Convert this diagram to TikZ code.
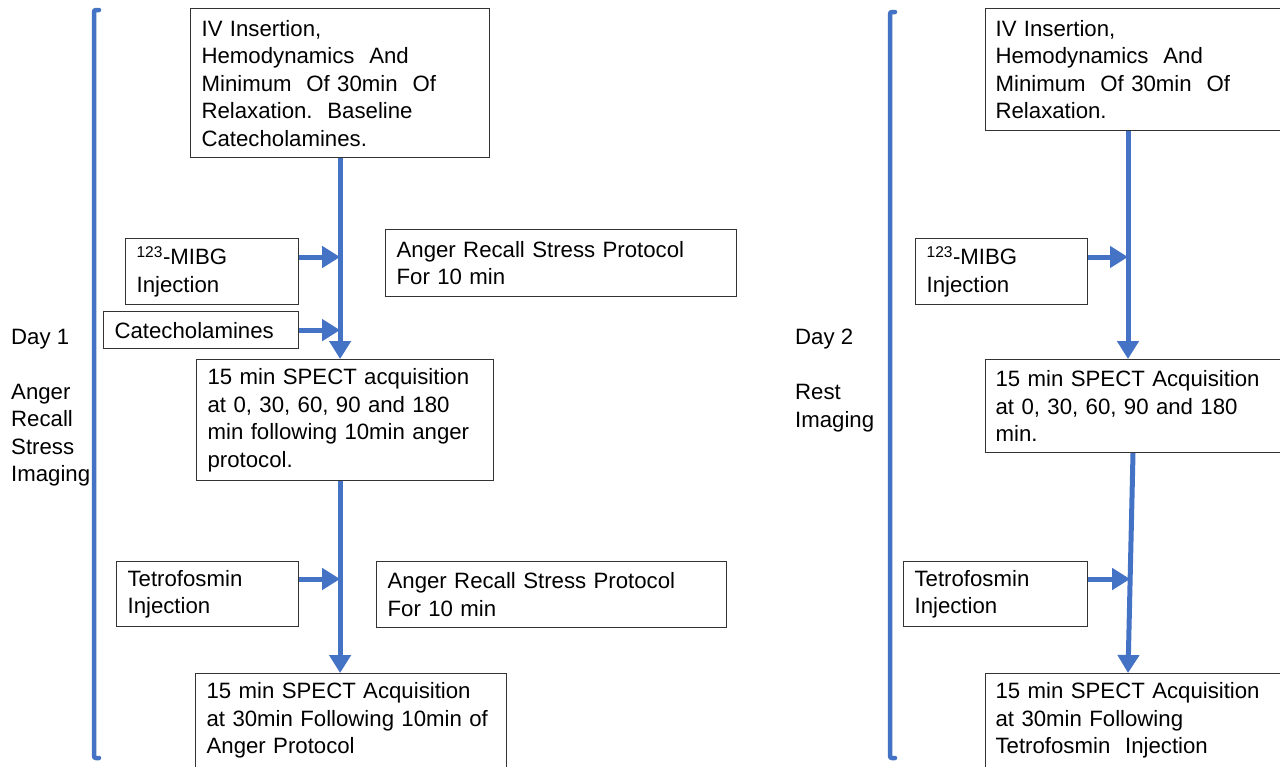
\documentclass[tikz,border=0pt]{standalone}
\usepackage{fontspec}
\setmainfont{Liberation Sans}
\usetikzlibrary{arrows.meta,calc}
\definecolor{flowblue}{HTML}{4472C4}
\definecolor{boxedge}{HTML}{333333}
\begin{document}
\begin{tikzpicture}[x=1pt,y=-1pt,
  box/.style={draw=boxedge, line width=1.2pt, anchor=north west, align=left,
    inner xsep=11pt, inner ysep=0pt, font=\fontsize{22.2}{27.5}\selectfont},
  lbl/.style={anchor=west, align=left, inner sep=0pt, font=\fontsize{22.2}{27.5}\selectfont},
  arr/.style={draw=flowblue, line width=5pt, -{Triangle[width=21pt 0,length=18pt 0]}},
  brk/.style={draw=flowblue, line width=4.5pt, line cap=round, rounded corners=2pt}]
\useasboundingbox (0,0) rectangle (1280,766);
\clip (0,0) rectangle (1280,766);
\fill[white] (0,0) rectangle (1280,766);

% ---------------- Day 1 ----------------
\draw[brk] (99,10) -- (94,10) -- (94,758) -- (99,758);
\node[lbl] (day1) at (11,339) {Day 1};
\node[lbl] (stress) at (11,435) {Anger\\Recall\\Stress\\Imaging};

\node[box, text width=277pt, minimum height=149pt] (ivL) at (190,8)
  {IV Insertion,\\Hemodynamics\ \ And\\Minimum\ \ Of 30min\ \ Of\\Relaxation.\ \ Baseline\\Catecholamines.};
\node[box, text width=151pt, minimum height=66pt] (mibgL) at (125,238)
  {\textsuperscript{123}-MIBG\\Injection};
\node[box, text width=329pt, minimum height=67pt] (angerA) at (385,229)
  {Anger Recall Stress Protocol\\For 10 min};
\node[box, text width=173pt, minimum height=37pt] (cateL) at (103,311)
  {Catecholamines};
\node[box, text width=275pt, minimum height=121pt] (spect1L) at (196,359)
  {15 min SPECT acquisition\\at 0, 30, 60, 90 and 180\\min following 10min anger\\protocol.};
\node[box, text width=160pt, minimum height=65pt] (tetroL) at (116,561)
  {Tetrofosmin\\Injection};
\node[box, text width=328pt, minimum height=66pt] (angerB) at (376,561)
  {Anger Recall Stress Protocol\\For 10 min};
\node[box, text width=289pt, minimum height=94pt] (spect2L) at (195,673)
  {15 min SPECT Acquisition\\at 30min Following 10min of\\Anger Protocol};

\draw[arr] (ivL.south) -- (ivL.south |- spect1L.north);
\draw[arr] (ivL.south |- spect1L.south) -- (ivL.south |- spect2L.north);
\draw[arr] ([yshift=-19pt]mibgL.north east) -- ([yshift=-19pt]mibgL.north east -| ivL.south);
\draw[arr] (cateL.east) -- (cateL.east -| ivL.south);
\draw[arr] ([yshift=-18pt]tetroL.north east) -- ([yshift=-18pt]tetroL.north east -| ivL.south);

% ---------------- Day 2 ----------------
\draw[brk] (895,12) -- (890,12) -- (890,758) -- (895,758);
\node[lbl] (day2) at (795,339) {Day 2};
\node[lbl] (rest) at (795,408) {Rest\\Imaging};

\node[box, inner xsep=10pt, text width=300pt, minimum height=122pt] (ivR) at (985,8)
  {IV Insertion,\\Hemodynamics\ \ And\\Minimum\ \ Of 30min\ \ Of\\Relaxation.};
\node[box, text width=150pt, minimum height=66pt] (mibgR) at (915,238)
  {\textsuperscript{123}-MIBG\\Injection};
\node[box, inner xsep=10pt, text width=300pt, minimum height=93pt] (spect1R) at (985,359)
  {15 min SPECT Acquisition\\at 0, 30, 60, 90 and 180\\min.};
\node[box, text width=162pt, minimum height=65pt] (tetroR) at (903,561)
  {Tetrofosmin\\Injection};
\node[box, inner xsep=10pt, text width=300pt, minimum height=94pt] (spect2R) at (985,673)
  {15 min SPECT Acquisition\\at 30min Following\\Tetrofosmin\ \ Injection};

\coordinate (r1a) at ([xshift=143pt]ivR.south west);
\coordinate (r1b) at ([xshift=143pt]spect1R.north west);
\coordinate (r2a) at ([xshift=148pt]spect1R.south west);
\coordinate (r2b) at ([xshift=143pt]spect2R.north west);
\coordinate (r2m) at ($(r2a)!0.575!(r2b)$);

\draw[arr] (r1a) -- (r1b);
\draw[arr] (r2a) -- (r2b);
\draw[arr] ([yshift=-19pt]mibgR.north east) -- ([yshift=-19pt]mibgR.north east -| r1a);
\draw[arr] ([yshift=-18pt]tetroR.north east) -- ([yshift=-18pt]tetroR.north east -| r2m);
\end{tikzpicture}
\end{document}
